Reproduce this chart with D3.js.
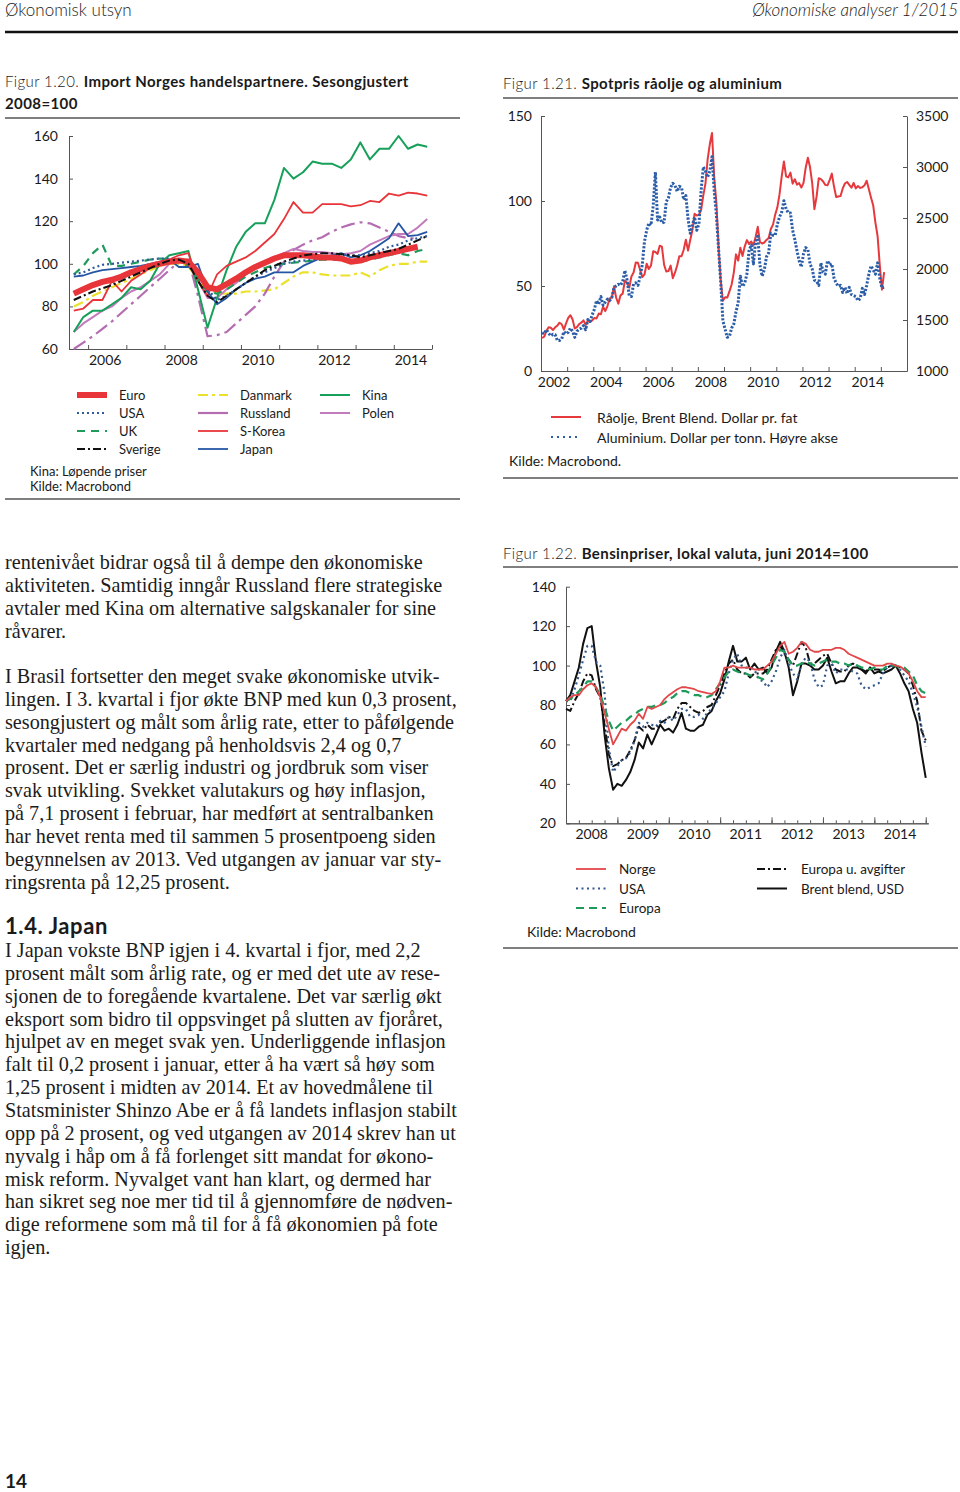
<!DOCTYPE html>
<html lang="no">
<head>
<meta charset="utf-8">
<script src="https://cdn.jsdelivr.net/npm/d3@7/dist/d3.min.js"></script>
<style>
html,body{margin:0;padding:0;background:#fff;}
svg{display:block;}
</style>
</head>
<body>
<svg id="page" width="960" height="1492"></svg>
<script>
// ================= DATA =================
// Figur 1.20 – quarterly, 2005K3 .. 2014K4 (38 quarters)
const importQuarters = d3.range(38).map(i => (2005 + Math.floor((i + 2) / 4)) + "K" + ((i + 2) % 4 + 1));
const importYTicks = [60, 80, 100, 120, 140, 160];
const importXTickYears = [2006, 2007, 2008, 2009, 2010, 2011, 2012, 2013, 2014, 2015];
const importXLabels = ["2006", "2008", "2010", "2012", "2014"];

const euro     = [86,88,90,91.5,92.5,94,96,97.5,99,100,101,101.5,101,96,89,88,90.5,93,96,98.5,100.5,102.5,104,104,104,103.5,103,103,102.5,101,101.5,103,104,105,106,107,108,null];
const usa20    = [95,96,98,99.5,100,100.5,101,101.5,102,102.5,102.5,102,100,95,88,83,85,88,91,94,96,98,100,101,101.5,102,103,103.5,104,104,104,105,106,108,109,111,112,113];
const uk       = [95,99,105,109,99,99,100,101,102,102.5,102,101,99,93,87,86,88,91,94,96,98,99.5,100,100.5,101,101.5,102,102,102,101.5,101,102,103,104,105,104,106,107];
const sverige  = [83,85,87,88.5,90,92,94,96,98,100,101.5,102,100,92,85,82,85,88,91,94,97,99,101,102.5,104,104.5,105,105,104.5,104,103,104,105,106,107,109,111,113];
const danmark  = [80,82,85,87,89,91,93,95,97,99,100,100,99,92,88,86,86,86,87,87,87.5,88,91,94,96,96,95,94.5,94.5,94.5,96,94,97,99,100,100,101,101];
const russland = [60,63,66,69.5,73,77,81,85,89,93,97,101,102,85,66,66.5,68,72,76,80,86,94,101,106.5,109,111,112.5,115,117,118.5,119.5,119,117,115,113,112,112,null];
const skorea   = [78,79,83,83,92,87,92,95,98,100,102,104,105,92,85,95,99,101,103,106,110,114,121,129,124,124,128,128,128,127,127.5,129.5,129,133,132,133.4,133,132];
const japan    = [94,94.5,96,97,97.5,98,98.5,99,100,101,102,98.5,98.5,100,87,81,84,88,91,93,94,96,96,96,99,101,103,104,105,103,104,106,109,112,119,113,113.5,115];
const kina     = [68,75,78,78,81,84,89,88,92,100,104,105,106,88,70,84,97,108,115,119,119,130,145,140,143,148,147,147,145,149,157,149,154,154,160,154,156,155];
const polen    = [68,72,75,78,80,84,87,89,92,95,100,102,100,92,84,84,88,91,95,98,101,103,105,107,106,105.5,105.5,105,104.5,105,106,109,111,113,114,114,117,121];

// Figur 1.21 – monthly, Jan 2002 .. Feb 2015
const spotMonths = d3.range(158).map(m => (2002 + Math.floor(m / 12)) + "-" + String(m % 12 + 1).padStart(2, "0"));
const oilYTicks = [0, 50, 100, 150];
const aluYTicks = [1000, 1500, 2000, 2500, 3000, 3500];
const spotXTickYears = d3.range(2003, 2016);
const spotXLabels = ["2002", "2004", "2006", "2008", "2010", "2012", "2014"];
const brentUsd = [
 19.4,20.2,23.7,25.7,25.4,24.1,25.7,26.7,28.4,27.5,24.3,28.0,
 31.2,32.8,30.3,25.0,25.8,27.6,28.4,29.8,27.1,29.6,28.8,29.8,
 31.2,30.9,33.8,33.4,37.9,35.2,38.2,42.7,43.2,49.8,43.1,39.6,
 44.5,45.5,53.1,51.9,49.0,55.6,57.9,63.8,63.7,59.4,55.3,56.8,
 63.1,60.0,62.1,70.4,70.0,68.9,73.7,73.2,62.5,58.5,58.8,62.0,
 54.6,57.8,62.1,67.5,67.5,71.3,77.2,70.8,77.1,82.9,92.5,91.5,
 91.9,94.8,103.3,110.4,124.6,133.5,140.0,114.1,99.1,72.8,53.2,41.3,
 43.4,43.2,46.8,50.9,57.9,68.6,64.9,72.5,67.7,73.2,77.0,74.7,
 76.2,73.8,78.8,84.8,75.9,75.0,75.6,77.1,78.2,83.5,86.1,92.0,
 96.3,104.0,114.6,123.3,114.5,113.9,116.7,110.2,112.8,109.6,110.5,107.9,
 110.7,119.6,125.5,119.8,110.3,95.2,102.6,113.4,112.9,111.5,109.5,109.2,
 112.3,116.1,108.5,102.3,102.6,102.9,107.4,110.3,111.2,109.5,107.8,110.6,
 107.4,108.8,107.7,108.1,109.2,111.9,106.9,101.9,97.3,87.3,79.4,62.3,
 47.8,58.1];
const aluminium = [
 1374,1365,1405,1370,1345,1360,1355,1300,1300,1315,1385,1365,
 1380,1420,1390,1330,1390,1410,1420,1445,1405,1505,1485,1550,
 1605,1690,1655,1730,1645,1675,1705,1690,1720,1815,1835,1850,
 1840,1880,1985,1895,1740,1730,1855,1865,1840,1925,2045,2270,
 2380,2450,2430,2620,2950,2480,2510,2450,2460,2660,2700,2800,
 2840,2820,2760,2810,2800,2680,2720,2490,2350,2430,2510,2380,
 2440,2770,3000,2960,2900,2960,3100,2770,2530,2200,1870,1490,
 1410,1330,1340,1420,1460,1580,1670,1930,1830,1860,1950,2180,
 2235,2050,2270,2320,2040,1930,1990,2120,2160,2350,2330,2330,
 2440,2510,2560,2670,2590,2550,2550,2380,2290,2180,2080,2020,
 2150,2210,2190,2050,2000,1890,1880,1840,2060,1970,1950,2080,
 2040,2050,1910,1860,1830,1840,1770,1820,1760,1820,1750,1740,
 1730,1690,1710,1810,1750,1840,1950,2030,1990,1950,2060,1910,
 1815,1820];

// Figur 1.22 – monthly, Jan 2008 .. Jan 2015, juni 2014 = 100
const fuelMonths = d3.range(85).map(m => (2008 + Math.floor(m / 12)) + "-" + String(m % 12 + 1).padStart(2, "0"));
const fuelYTicks = [20, 40, 60, 80, 100, 120, 140];
const fuelXLabels = ["2008", "2009", "2010", "2011", "2012", "2013", "2014"];
const norge = [
 82,84,85,85,88,90,91,89,84,76,68,60,
 64,68,67,70,72,75.5,73,79,78,79,80,83,
 85,86.5,88,89,89,88.5,88,87,86.5,86,85.6,87,
 92,99,99,100,99,99,99,99,98,98,98,100,
 102,106,110,112,106,107,109,112,111,108,107,107,
 108,108,108,109,109,108,106,105,104,103,102,101,
 100,100,100,101,101,100,99.5,98,96,92,87,84,
 84];
const usaFuel = [
 82,82,88,95,103,110,110,102,100,86,58,46,
 49,52,53,56,62,71,69,71,70,69,72,71,
 74,72,75,78,78,74,74,75,73,76,78,81,
 84,87,96,103,106,100,99,99,98,93,92,89,
 92,97,104,108,101,96,93,101,104,102,93,89,
 90,100,101,96,98,98,98,97,96,90,88,89,
 90,91,96,99,100,100,98,95,92,86,79,69,
 59];
const europa = [
 82,83,85,87,89,92,92,89,85,79,72,67,
 69,71,72,74,75,77,78,79,79,80,80,81,
 83,84,86,87,87,86,85,85,84,84,85,88,
 91,94,97,98,97,96,96,95,95,94,93,96,
 100,104,108,107,103,100,100,101,102,101,100,101,
 102,103,102,102,101,101,100,101,100,99,99,98,
 99,98,98,100,100,100,99,99,97,95,90,87,
 86];
const europaExTax = [
 78,77,82,86,92,96,95,88,84,70,55,49,
 50,52,53,57,62,69,67,70,68,68,71,72,
 74,73,78,81,81,79,77,76,77,79,80,85,
 90,96,101,103,98,96,96,94,96,96,96,98,
 103,108,110,106,103,100,106,112,109,101,101,103,
 105,106,101,98,97,97,100,101,100,98,97,99,
 98,98,97,99,100,100,99,98,96,90,82,67,
 62];
const brentIdx = [
 82,85,92,99,111,119,120,102,89,65,48,37,
 40,39,42,46,52,61,58,65,60,65,70,67,
 68,66,70,76,68,67,67,69,70,75,77,82,
 86,93,102,110,102,102,104,98,101,98,99,96,
 99,107,112,107,99,85,92,101,101,100,98,98,
 100,104,97,91,92,92,96,99,99,98,96,99,
 96,97,96,97,98,100,96,91,87,78,71,56,
 43];

// Body text
const bodyBlock1 = [
 "rentenivået bidrar også til å dempe den økonomiske",
 "aktiviteten. Samtidig inngår Russland flere strategiske",
 "avtaler med Kina om alternative salgskanaler for sine",
 "råvarer."];
const bodyBlock2 = [
 "I Brasil fortsetter den meget svake økonomiske utvik-",
 "lingen. I 3. kvartal i fjor økte BNP med kun 0,3 prosent,",
 "sesongjustert og målt som årlig rate, etter to påfølgende",
 "kvartaler med nedgang på henholdsvis 2,4 og 0,7",
 "prosent. Det er særlig industri og jordbruk som viser",
 "svak utvikling. Svekket valutakurs og høy inflasjon,",
 "på 7,1 prosent i februar, har medført at sentralbanken",
 "har hevet renta med til sammen 5 prosentpoeng siden",
 "begynnelsen av 2013. Ved utgangen av januar var sty-",
 "ringsrenta på 12,25 prosent."];
const bodyBlock3 = [
 "I Japan vokste BNP igjen i 4. kvartal i fjor, med 2,2",
 "prosent målt som årlig rate, og er med det ute av rese-",
 "sjonen de to foregående kvartalene. Det var særlig økt",
 "eksport som bidro til oppsvinget på slutten av fjoråret,",
 "hjulpet av en meget svak yen. Underliggende inflasjon",
 "falt til 0,2 prosent i januar, etter å ha vært så høy som",
 "1,25 prosent i midten av 2014. Et av hovedmålene til",
 "Statsminister Shinzo Abe er å få landets inflasjon stabilt",
 "opp på 2 prosent, og ved utgangen av 2014 skrev han ut",
 "nyvalg i håp om å få forlenget sitt mandat for økono-",
 "misk reform. Nyvalget vant han klart, og dermed har",
 "han sikret seg noe mer tid til å gjennomføre de nødven-",
 "dige reformene som må til for å få økonomien på fote",
 "igjen."];

// ================= DRAWING =================
const SANS = 'Lato, "Open Sans", "Noto Sans", sans-serif';
const SERIF = '"Liberation Serif", "DejaVu Serif", serif';
const INK = "#1a1a1a";
const AX = "#555";
const svg = d3.select("#page");

function txt(x, y, s, o = {}) {
  const t = svg.append("text").attr("x", x).attr("y", y).text(s)
    .attr("font-family", o.family || SANS).attr("font-size", o.size || 13)
    .attr("fill", o.fill || INK);
  if (o.weight) t.attr("font-weight", o.weight);
  if (o.anchor) t.attr("text-anchor", o.anchor);
  if (o.style) t.attr("font-style", o.style);
  if (o.ls) t.attr("letter-spacing", o.ls);
  return t;
}
function rule(x1, x2, y, w, c) {
  svg.append("line").attr("x1", x1).attr("x2", x2).attr("y1", y).attr("y2", y)
    .attr("stroke", c || "#555").attr("stroke-width", w || 1.5);
}
function title(x, y, num, rest) {
  const t = svg.append("text").attr("x", x).attr("y", y).attr("font-family", SANS)
    .attr("font-size", 15).attr("letter-spacing", 0.4).attr("fill", INK);
  t.append("tspan").attr("font-weight", 300).text(num + " ");
  t.append("tspan").attr("font-weight", 700).text(rest);
  return t;
}
function styleAxis(g) {
  g.select(".domain").attr("stroke", AX).attr("stroke-width", 1);
  g.selectAll(".tick line").attr("stroke", AX);
  g.selectAll(".tick text").attr("font-family", SANS).attr("font-size", 14).attr("fill", INK);
}
function legendLine(x1, x2, y, s) {
  const l = svg.append("line").attr("x1", x1).attr("x2", x2).attr("y1", y).attr("y2", y)
    .attr("stroke", s.color).attr("stroke-width", s.width).attr("fill", "none");
  if (s.dash) l.attr("stroke-dasharray", s.dash);
}
function drawSeries(data, xs, ys, s, xOf) {
  const line = d3.line().defined(d => d != null).x((d, i) => xs(xOf(i))).y(d => ys(d));
  const p = svg.append("path").datum(data).attr("d", line).attr("fill", "none")
    .attr("stroke", s.color).attr("stroke-width", s.width)
    .attr("stroke-linejoin", "round");
  if (s.dash) p.attr("stroke-dasharray", s.dash);
}

// ---- Header ----
txt(5, 16, "Økonomisk utsyn", { size: 17, weight: 300 });
txt(958, 16, "Økonomiske analyser 1/2015", { size: 17, weight: 300, style: "italic", anchor: "end" });
rule(5, 958, 32, 2.5, "#111");

// ---- Figur 1.20 ----
title(5, 87, "Figur 1.20.", "Import Norges handelspartnere. Sesongjustert");
txt(5, 109, "2008=100", { size: 15, weight: 700, ls: 0.4 });
rule(5, 460, 118, 1.5);

const x20 = d3.scaleLinear().domain([2005.5, 2015]).range([69, 432]);
const y20 = d3.scaleLinear().domain([60, 160]).range([349, 136]);
const qT = q => { const [yy, qq] = q.split("K"); return +yy + (+qq - 1) / 4 + 0.125; };

styleAxis(svg.append("g").attr("transform", "translate(69,0)")
  .call(d3.axisLeft(y20).tickValues(importYTicks).tickSize(-4).tickSizeOuter(0).tickPadding(11)));
styleAxis(svg.append("g").attr("transform", "translate(0,349)")
  .call(d3.axisBottom(x20).tickValues(importXTickYears).tickSize(-4).tickSizeOuter(0).tickFormat("")));
importXLabels.forEach(l => txt(x20(+l + 0.5) - 2, 365, l, { size: 14, anchor: "middle" }));

const S20 = {
  euro:    { color: "#e8353a", width: 6 },
  usa:     { color: "#2f5b9a", width: 2.2, dash: "2,3" },
  uk:      { color: "#1e9a5a", width: 2.2, dash: "8,6" },
  sverige: { color: "#111", width: 2, dash: "8,3,2,3" },
  danmark: { color: "#ece12a", width: 2.2, dash: "10,4,3,4" },
  russland:{ color: "#b46db0", width: 2.2, dash: "14,5,3,5" },
  skorea:  { color: "#e8353a", width: 1.8 },
  japan:   { color: "#2456a4", width: 1.8 },
  kina:    { color: "#17a05a", width: 2 },
  polen:   { color: "#c27bbd", width: 2 }
};
const qx = i => qT(importQuarters[i]);
[[danmark, S20.danmark], [russland, S20.russland], [polen, S20.polen], [kina, S20.kina],
 [skorea, S20.skorea], [uk, S20.uk], [japan, S20.japan], [usa20, S20.usa],
 [euro, S20.euro], [sverige, S20.sverige]]
  .forEach(([d, s]) => drawSeries(d, x20, y20, s, qx));

// legend 1.20
const leg20 = [
  ["Euro", S20.euro, 0, 0], ["USA", S20.usa, 0, 1], ["UK", S20.uk, 0, 2], ["Sverige", S20.sverige, 0, 3],
  ["Danmark", S20.danmark, 1, 0], ["Russland", { color: S20.russland.color, width: 2.2 }, 1, 1],
  ["S-Korea", S20.skorea, 1, 2], ["Japan", S20.japan, 1, 3],
  ["Kina", S20.kina, 2, 0], ["Polen", S20.polen, 2, 1]
];
const legCols20 = [77, 198, 320];
leg20.forEach(([name, s, c, r]) => {
  const y = 395 + r * 18;
  legendLine(legCols20[c], legCols20[c] + 30, y, s);
  txt(legCols20[c] + 42, y + 5, name, { size: 13 });
});
txt(30, 476, "Kina: Løpende priser", { size: 13 });
txt(30, 491, "Kilde: Macrobond", { size: 13 });
rule(5, 460, 499, 1.5);

// ---- Figur 1.21 ----
title(503, 89, "Figur 1.21.", "Spotpris råolje og aluminium");
rule(503, 958, 98, 1.5);
const x21 = d3.scaleLinear().domain([2002, 2016]).range([541, 907]);
const yL21 = d3.scaleLinear().domain([0, 150]).range([371, 116]);
const yR21 = d3.scaleLinear().domain([1000, 3500]).range([371, 116]);
styleAxis(svg.append("g").attr("transform", "translate(541,0)")
  .call(d3.axisLeft(yL21).tickValues(oilYTicks).tickSize(-4).tickSizeOuter(0).tickPadding(9)));
styleAxis(svg.append("g").attr("transform", "translate(907,0)")
  .call(d3.axisRight(yR21).tickValues(aluYTicks).tickFormat(d3.format("d")).tickSize(-4).tickSizeOuter(0).tickPadding(9)));
styleAxis(svg.append("g").attr("transform", "translate(0,371)")
  .call(d3.axisBottom(x21).tickValues(spotXTickYears).tickSize(-4).tickSizeOuter(0).tickFormat("")));
spotXLabels.forEach(l => txt(x21(+l + 0.5), 387, l, { size: 14, anchor: "middle" }));
const mT = s => { const [yy, mm] = s.split("-"); return +yy + (+mm - 0.5) / 12; };
const S21 = {
  oil: { color: "#e6393d", width: 2 },
  alu: { color: "#2c5ea8", width: 3, dash: "2.2,1.6" }
};
drawSeries(brentUsd, x21, yL21, S21.oil, i => mT(spotMonths[i]));
drawSeries(aluminium, x21, yR21, S21.alu, i => mT(spotMonths[i]));
legendLine(551, 581, 417, S21.oil);
txt(597, 423, "Råolje, Brent Blend. Dollar pr. fat", { size: 14 });
legendLine(551, 581, 437, { color: S21.alu.color, width: 2.2, dash: "2,4" });
txt(597, 443, "Aluminium. Dollar per tonn. Høyre akse", { size: 14 });
txt(509, 466, "Kilde: Macrobond.", { size: 14 });
rule(503, 958, 478, 1.5);

// ---- Figur 1.22 ----
title(503, 559, "Figur 1.22.", "Bensinpriser, lokal valuta, juni 2014=100");
rule(503, 958, 567, 1.5);
const x22 = d3.scaleLinear().domain([2008, 2015.05]).range([566, 928.3]);
const y22 = d3.scaleLinear().domain([20, 140]).range([823.3, 586.7]);
styleAxis(svg.append("g").attr("transform", "translate(566,0)")
  .call(d3.axisLeft(y22).tickValues(fuelYTicks).tickSize(-4).tickSizeOuter(0).tickPadding(10)));
const qTicks22 = d3.range(1, 29).map(k => 2008 + k / 4);
styleAxis(svg.append("g").attr("transform", "translate(0,823.3)")
  .call(d3.axisBottom(x22).tickValues(qTicks22).tickSize(-3).tickSizeOuter(0).tickFormat("")));
styleAxis(svg.append("g").attr("transform", "translate(0,823.3)")
  .call(d3.axisBottom(x22).tickValues(qTicks22.filter(v => v % 1 === 0)).tickSize(-6).tickSizeOuter(0).tickFormat("")));
fuelXLabels.forEach(l => txt(x22(+l + 0.5), 839, l, { size: 14, anchor: "middle" }));
const fT = s => { const [yy, mm] = s.split("-"); return +yy + (+mm - 1) / 12; };
const S22 = {
  norge:  { color: "#e2474a", width: 1.8 },
  usa:    { color: "#35598c", width: 2.2, dash: "2,3.5" },
  europa: { color: "#1f9a5a", width: 2.2, dash: "8,5" },
  exTax:  { color: "#111", width: 2, dash: "8,3,2,3" },
  brent:  { color: "#111", width: 2 }
};
const fx = i => fT(fuelMonths[i]);
drawSeries(brentIdx, x22, y22, S22.brent, fx);
drawSeries(europaExTax, x22, y22, S22.exTax, fx);
drawSeries(usaFuel, x22, y22, S22.usa, fx);
drawSeries(europa, x22, y22, S22.europa, fx);
drawSeries(norge, x22, y22, S22.norge, fx);
[["Norge", S22.norge, 0, 0], ["USA", S22.usa, 0, 1], ["Europa", S22.europa, 0, 2],
 ["Europa u. avgifter", S22.exTax, 1, 0], ["Brent blend, USD", S22.brent, 1, 1]]
  .forEach(([name, s, c, r]) => {
    const y = 869 + r * 19.5;
    const lx = c === 0 ? 576 : 757;
    legendLine(lx, lx + 30, y, s);
    txt(lx + (c === 0 ? 43 : 44), y + 5, name, { size: 13.5 });
  });
txt(527, 937, "Kilde: Macrobond", { size: 14 });
rule(503, 958, 948, 1.5);

// ---- Body text ----
const LH = 22.85;
const BODY = { family: SERIF, size: 20.2, fill: "#1c1c1c" };
bodyBlock1.forEach((l, i) => txt(5, 569 + i * LH, l, BODY));
bodyBlock2.forEach((l, i) => txt(5, 683 + i * LH, l, BODY));
txt(5, 934, "1.4. Japan", { size: 22, weight: 700, ls: 0.6 });
bodyBlock3.forEach((l, i) => txt(5, 957 + i * LH, l, BODY));
txt(5, 1488, "14", { size: 19, weight: 700 });
</script>
</body>
</html>
